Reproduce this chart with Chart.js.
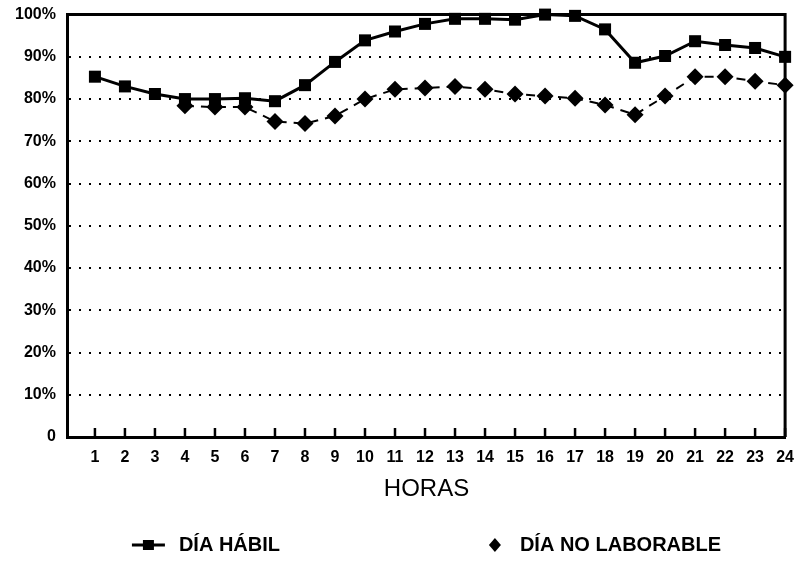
<!DOCTYPE html>
<html>
<head>
<meta charset="utf-8">
<title>Día hábil / Día no laborable</title>
<script src="https://cdn.jsdelivr.net/npm/chart.js@4.4.1/dist/chart.umd.min.js"></script>
<style>
  html, body { margin: 0; padding: 0; background: #fff; }
  #wrap { width: 797px; height: 576px; }
</style>
</head>
<body>
<div id="wrap"><canvas id="chart"></canvas></div>
<script>
const hours = [1, 2, 3, 4, 5, 6, 7, 8, 9, 10, 11, 12, 13, 14, 15, 16, 17, 18, 19, 20, 21, 22, 23, 24];
const yTicks = [0, 10, 20, 30, 40, 50, 60, 70, 80, 90, 100];
const diaHabil = [85.3, 83.0, 81.2, 80.0, 80.0, 80.2, 79.5, 83.3, 88.8, 93.9, 96.0, 97.8,
                  99.0, 99.0, 98.8, 100.0, 99.7, 96.5, 88.6, 90.2, 93.7, 92.8, 92.1, 90.0];
const diaNoLaborable = [null, null, null, 78.4, 78.1, 78.1, 74.7, 74.2, 76.0, 80.0, 82.3, 82.6,
                        83.0, 82.3, 81.2, 80.7, 80.2, 78.6, 76.3, 80.7, 85.3, 85.3, 84.2, 83.3];
const seriesNames = ['DÍA HÁBIL', 'DÍA NO LABORABLE'];
const axisTitle = 'HORAS';

const FONT = '"Liberation Sans", Arial, Helvetica, sans-serif';

function toPoints(values) {
  return hours.map((h, i) => ({ x: h, y: values[i] })).filter(p => p.y !== null);
}

// frame on top and right, and small tick marks pointing up from the x axis
const framePlugin = {
  id: 'frame',
  beforeDatasetsDraw(chart) {
    const { ctx, chartArea } = chart;
    const xScale = chart.scales.x;
    ctx.save();
    ctx.strokeStyle = '#000';
    ctx.lineWidth = 3;
    ctx.beginPath();
    ctx.moveTo(chartArea.left, chartArea.top);
    ctx.lineTo(chartArea.right, chartArea.top);
    ctx.lineTo(chartArea.right, chartArea.bottom);
    ctx.stroke();
    ctx.lineWidth = 2.5;
    xScale.ticks.forEach(t => {
      const x = xScale.getPixelForValue(t.value);
      ctx.beginPath();
      ctx.moveTo(x, chartArea.bottom);
      ctx.lineTo(x, chartArea.bottom - 9);
      ctx.stroke();
    });
    ctx.restore();
  }
};

const legendPlugin = {
  id: 'bottomLegend',
  afterDraw(chart) {
    const { ctx, chartArea } = chart;
    const y = chartArea.bottom + 108;
    const x1 = chartArea.left + 64;
    const x2 = chartArea.left + 427;
    ctx.save();
    ctx.fillStyle = '#000';
    ctx.strokeStyle = '#000';
    // día hábil: line with square
    ctx.lineWidth = 3;
    ctx.beginPath();
    ctx.moveTo(x1, y);
    ctx.lineTo(x1 + 33, y);
    ctx.stroke();
    ctx.fillRect(x1 + 11, y - 5, 11, 10);
    // día no laborable: diamond
    ctx.beginPath();
    ctx.moveTo(x2, y - 7);
    ctx.lineTo(x2 + 6, y);
    ctx.lineTo(x2, y + 7);
    ctx.lineTo(x2 - 6, y);
    ctx.closePath();
    ctx.fill();
    ctx.font = 'bold 20px ' + FONT;
    ctx.textBaseline = 'middle';
    ctx.textAlign = 'left';
    ctx.fillText(seriesNames[0], x1 + 47, y);
    ctx.fillText(seriesNames[1], x2 + 25, y);
    ctx.restore();
  }
};

new Chart(document.getElementById('chart'), {
  type: 'line',
  data: {
    datasets: [
      {
        label: seriesNames[0],
        data: toPoints(diaHabil),
        borderColor: '#000',
        backgroundColor: '#000',
        borderWidth: 3,
        pointStyle: 'rect',
        pointRadius: 8.5,
        pointBorderWidth: 0,
        pointBackgroundColor: '#000',
        tension: 0
      },
      {
        label: seriesNames[1],
        data: toPoints(diaNoLaborable),
        borderColor: '#000',
        backgroundColor: '#000',
        borderWidth: 2,
        borderDash: [9, 7],
        pointStyle: 'rectRot',
        pointRadius: 8.5,
        pointBorderWidth: 0,
        pointBackgroundColor: '#000',
        tension: 0
      }
    ]
  },
  options: {
    responsive: true,
    maintainAspectRatio: false,
    animation: false,
    clip: false,
    layout: { padding: { left: 10, right: 0, top: 8, bottom: 72 } },
    plugins: {
      legend: { display: false },
      tooltip: { enabled: false }
    },
    scales: {
      x: {
        type: 'linear',
        min: 0.1,
        max: 24,
        afterBuildTicks: scale => { scale.ticks = hours.map(h => ({ value: h })); },
        ticks: {
          autoSkip: false,
          maxRotation: 0,
          color: '#000',
          padding: 3,
          font: { family: FONT, size: 16, weight: 'bold' }
        },
        grid: { display: false },
        border: { display: true, color: '#000', width: 3 },
        title: {
          display: true,
          text: axisTitle,
          color: '#000',
          padding: { top: 5, bottom: 0 },
          font: { family: FONT, size: 24 }
        }
      },
      y: {
        min: 0,
        max: 100,
        afterBuildTicks: scale => { scale.ticks = yTicks.map(v => ({ value: v })); },
        ticks: {
          color: '#000',
          padding: 5,
          font: { family: FONT, size: 16, weight: 'bold' },
          callback: v => v === 0 ? '0' : v + '%'
        },
        grid: { color: '#000', lineWidth: 2, drawTicks: true, tickLength: 7, tickColor: 'rgba(0,0,0,0)' },
        border: { display: true, color: '#000', width: 3, dash: [2, 8] }
      }
    }
  },
  plugins: [framePlugin, legendPlugin]
});
</script>
</body>
</html>
